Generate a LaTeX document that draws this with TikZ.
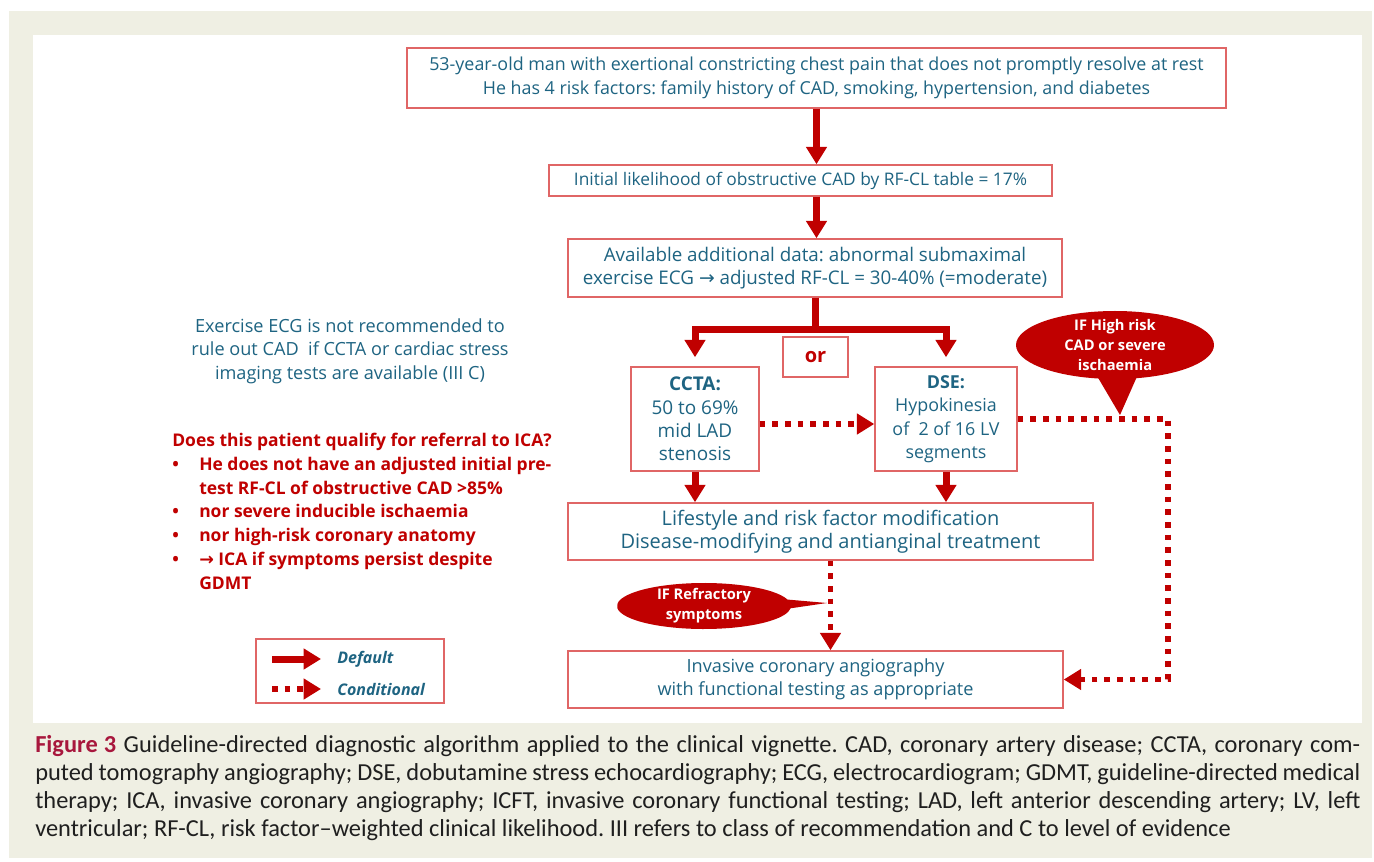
\documentclass[tikz,border=0pt]{standalone}
\usepackage{fontspec}
\setmainfont{Open Sans}
\newfontfamily\capfont{Carlito}
\newfontfamily\symfont{DejaVu Sans}
\usetikzlibrary{arrows.meta,positioning,shapes.callouts,calc}

\definecolor{txtteal}{HTML}{1E6482}
\definecolor{flowred}{HTML}{C00000}
\definecolor{edgered}{HTML}{E06666}
\definecolor{panelbg}{HTML}{EFEFE3}
\definecolor{figred}{HTML}{A8173D}
\definecolor{captxt}{HTML}{1F1F1F}

\newcommand{\bodysize}[1]{\fontsize{#1}{17.6}\selectfont}
\newcommand{\notebul}{\makebox[20.25pt][l]{\textbullet}}
\newcommand{\rarr}{{\symfont\char"2192}}

\begin{document}
\frenchspacing
\begin{tikzpicture}[
    x=0.75pt, y=-0.75pt,
    flowbox/.style={draw=edgered, line width=1.1pt, fill=white, align=center, text=txtteal, inner sep=0pt, font=\bodysize{13}},
    defarrow/.style={draw=flowred, line width=5.25pt, -{Triangle[width=15pt,length=13pt]}},
    condarrow/.style={draw=flowred, line width=4.3pt, dash pattern=on 4.3pt off 5.2pt, -{Triangle[width=15pt,length=13pt]}},
    callbubble/.style={ellipse callout, fill=flowred, inner sep=0pt, callout pointer arc=22},
    calltext/.style={text=white, align=center, font=\bfseries\fontsize{11}{15}\selectfont},
    notetext/.style={text=txtteal, align=center, font=\fontsize{13.6}{17.6}\selectfont},
    noteblock/.style={text=flowred, align=left, inner sep=0pt, font=\bfseries\fontsize{13.1}{17.8}\selectfont},
    legtext/.style={text=txtteal, inner sep=0pt, font=\bfseries\itshape\fontsize{12}{14}\selectfont},
    captext/.style={text=captxt, align=left, inner sep=0pt, font=\capfont\fontsize{18.3}{21.1}\selectfont}
  ]
  % frame
  \useasboundingbox (0,0) rectangle (1374,862);
  \fill[white] (0,0) rectangle (1374,862);
  \fill[panelbg] (9,11) rectangle (1372,858);
  \fill[white] (33,35) rectangle (1362,723);

  % main flow
  \node[flowbox, font=\bodysize{13.4}, minimum width=614.25pt, minimum height=45pt] (lead) at (816.5,78)
    {53-year-old man with exertional constricting chest pain that does not promptly resolve at rest\\
     He has 4 risk factors: family history of CAD, smoking, hypertension, and diabetes};
  \node[flowbox, minimum width=377.25pt, minimum height=23.25pt] (init) at (800.5,180.5)
    {Initial likelihood of obstructive CAD by RF-CL table = 17\%};
  \node[flowbox, font=\bodysize{14.1}, minimum width=370.5pt, minimum height=43.5pt] (adj) at (815,268)
    {Available additional data: abnormal submaximal\\
     exercise ECG \rarr{} adjusted RF-CL = 30-40\% (=moderate)};
  \node[flowbox, minimum width=48.75pt, minimum height=30pt, text=flowred, font=\bfseries\fontsize{15}{18}\selectfont] (orbox) at (815.5,357) {or};
  \node[flowbox, font=\bodysize{14.2}, minimum width=96pt, minimum height=78pt] (ccta) at (695,419)
    {{\bfseries CCTA:}\\50 to 69\%\\mid LAD\\stenosis};
  \node[flowbox, font=\bodysize{13.4}, minimum width=106.5pt, minimum height=78pt] (dse) at (946,419)
    {{\bfseries DSE:}\\Hypokinesia\\of\ \ 2 of 16 LV\\segments};
  \node[flowbox, font=\bodysize{15}, minimum width=393.75pt, minimum height=42.75pt] (mod) at (830.5,531.5)
    {Lifestyle and risk factor modification\\
     Disease-modifying and antianginal treatment};
  \node[flowbox, font=\bodysize{13.6}, minimum width=371.25pt, minimum height=42.75pt] (ica) at (815.5,679.5)
    {Invasive coronary angiography\\
     with functional testing as appropriate};

  % default arrows
  \draw[defarrow] (lead.south) -- (lead.south |- init.north);
  \draw[defarrow] (lead.south |- init.south) -- (lead.south |- adj.north);
  \draw[draw=flowred, line width=5.25pt] (adj.south) -- ++(0,32) coordinate (fork);
  \draw[defarrow, shorten >=6.75pt] (fork) -| (ccta.north);
  \draw[defarrow, shorten >=6.75pt] (fork) -| (dse.north);
  \draw[defarrow] (ccta.south) -- (ccta.south |- mod.north);
  \draw[defarrow] (dse.south) -- (dse.south |- mod.north);

  % conditional arrows
  \coordinate (rail) at (1168,419);
  \draw[condarrow] ([yshift=-3.75pt]ccta.east) -- ([yshift=-3.75pt]dse.west);
  \draw[condarrow] (dse.east) -- (rail) |- (ica.east);
  \draw[condarrow] (mod.south) -- (mod.south |- ica.north);

  % callouts
  \node[callbubble, minimum width=148.5pt, minimum height=51pt, callout absolute pointer={(1120,415)},
    label={[calltext]center:IF High risk\\CAD or severe\\ischaemia}] (riskcall) at (1115,345) {};
  \node[callbubble, minimum width=130.5pt, minimum height=34.5pt, callout absolute pointer={(827,603)},
    label={[calltext]center:IF Refractory\\symptoms}] (refcall) at (704,606) {};

  % side notes
  \node[notetext] (exnote) at (350,351)
    {Exercise ECG is not recommended to\\rule out CAD\ \ if CCTA or cardiac stress\\imaging tests are available (III C)};
  \node[noteblock, anchor=north west] (qnote) at (172,433)
    {Does this patient qualify for referral to ICA?\\
     \notebul He does not have an adjusted initial pre-\\
     \hspace*{20.25pt}test RF-CL of obstructive CAD >85\%\\
     \notebul nor severe inducible ischaemia\\
     \notebul nor high-risk coronary anatomy\\
     \notebul {\symfont\bfseries\char"2192} ICA if symptoms persist despite\\
     \hspace*{20.25pt}GDMT};

  % legend
  \node[flowbox, minimum width=141pt, minimum height=48pt] (legend) at (350,671) {};
  \coordinate (legA) at (272,659);
  \coordinate (legB) at (321,659);
  \coordinate (legC) at (272,689);
  \coordinate (legD) at (321,689);
  \draw[defarrow] (legA) -- (legB);
  \draw[condarrow] (legC) -- (legD);
  \node[legtext, anchor=west] (legdef) at (337,659) {Default};
  \node[legtext, anchor=west] (legcond) at (337,689) {Conditional};

  % caption
  \node[captext, anchor=north west] (caption) at (35,735)
    {\makebox[993.75pt][s]{{\color{figred}\bfseries Figure\kern0.25em3} Guideline-directed diagnostic algorithm applied to the clinical vignette. CAD, coronary artery disease; CCTA, coronary com-}\\
     \makebox[993.75pt][s]{puted tomography angiography; DSE, dobutamine stress echocardiography; ECG, electrocardiogram; GDMT, guideline-directed medical}\\
     \makebox[993.75pt][s]{therapy; ICA, invasive coronary angiography; ICFT, invasive coronary functional testing; LAD, left anterior descending artery; LV, left}\\
     ventricular; RF-CL, risk factor–weighted clinical likelihood. III refers to class of recommendation and C to level of evidence};
\end{tikzpicture}
\end{document}
